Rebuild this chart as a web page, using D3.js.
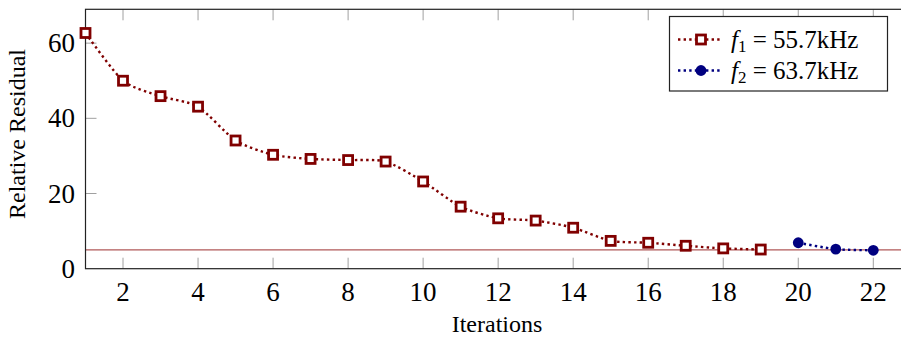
<!DOCTYPE html>
<html>
<head>
<meta charset="utf-8">
<script src="https://cdn.jsdelivr.net/npm/d3@7"></script>
<style>
  body { margin: 0; background: #fff; }
  text { font-family: "Liberation Serif", "DejaVu Serif", serif; }
</style>
</head>
<body>
<div id="chart"></div>
<script>
/* Relative residual per iteration, two frequencies */

const iter1 = [1, 2, 3, 4, 5, 6, 7, 8, 9, 10, 11, 12, 13, 14, 15, 16, 17, 18, 19];
const resid1 = [62.7, 50.0, 45.9, 43.1, 34.1, 30.3, 29.2, 28.9, 28.5, 23.2, 16.5, 13.4, 12.8, 10.9, 7.4, 6.9, 6.1, 5.4, 5.1];
const iter2 = [20, 21, 22];
const resid2 = [6.9, 5.2, 4.9];
const threshold = 5;
const xTicks = [2, 4, 6, 8, 10, 12, 14, 16, 18, 20, 22];
const yTicks = [0, 20, 40, 60];
const labels = ["55.7kHz", "63.7kHz"];

const width = 901, height = 337,
    margin = ({ top: 9, right: 0, bottom: 69, left: 85 });

const red = "#800000", blue = "#000080";
const serif = "Liberation Serif";

const svg = d3.select("#chart")
    .append("svg")
    .attr("width", width)
    .attr("height", height)
    .attr("font-family", serif)
    .attr("viewBox", [0, 0, width, height]);

let x = d3.scaleLinear()
    .domain([1, 22.8])
    .range([margin.left + 0.5, 873.3 + 0.8 * 37.5]);

let y = d3.scaleLinear()
    .domain([0, 69])
    .range([height - margin.bottom + 0.7, margin.top + 0.3]);

const x0 = x(1), x1 = x(22.8), yb = y(0), yt = y(69);

/* inner ticks (pgfplots style), mirrored on top */
const tickLen = 11;
svg.append("g").selectAll("line")
  .data(xTicks).join("line")
    .attr("x1", d => x(d)).attr("x2", d => x(d))
    .attr("y1", yb).attr("y2", yb - tickLen)
    .attr("stroke", "#a0a0a0").attr("stroke-width", 1);
svg.append("g").selectAll("line")
  .data(xTicks).join("line")
    .attr("x1", d => x(d)).attr("x2", d => x(d))
    .attr("y1", yt).attr("y2", yt + tickLen)
    .attr("stroke", "#a0a0a0").attr("stroke-width", 1);
svg.append("g").selectAll("line")
  .data(yTicks.filter(d => d > 0)).join("line")
    .attr("x1", x0).attr("x2", x0 + tickLen)
    .attr("y1", d => y(d)).attr("y2", d => y(d))
    .attr("stroke", "#a0a0a0").attr("stroke-width", 1);

/* threshold line */
svg.append("line")
    .attr("x1", x0).attr("x2", x1)
    .attr("y1", y(threshold)).attr("y2", y(threshold))
    .attr("stroke", "#b05858")
    .attr("stroke-width", 1.3);

/* axis box */
svg.append("rect")
    .attr("x", x0).attr("y", yt)
    .attr("width", x1 - x0).attr("height", yb - yt)
    .attr("fill", "none")
    .attr("stroke", "#222")
    .attr("stroke-width", 1.2);

/* tick labels */
svg.append("g").selectAll("text")
  .data(xTicks).join("text")
    .attr("x", d => x(d))
    .attr("y", 301)
    .attr("text-anchor", "middle")
    .attr("font-family", serif)
    .attr("font-size", 27)
    .text(d => d);

svg.append("g").selectAll("text")
  .data(yTicks).join("text")
    .attr("x", 75)
    .attr("y", d => y(d) + 9)
    .attr("text-anchor", "end")
    .attr("font-family", serif)
    .attr("font-size", 27)
    .text(d => d);

/* axis labels */
svg.append("text")
    .attr("x", 497)
    .attr("y", 332)
    .attr("text-anchor", "middle")
    .attr("font-family", serif)
    .attr("font-size", 24)
    .text("Iterations");

svg.append("text")
    .attr("transform", "translate(25,134) rotate(-90)")
    .attr("text-anchor", "middle")
    .attr("font-family", serif)
    .attr("font-size", 24)
    .text("Relative Residual");

/* series */
const s1 = iter1.map((d, i) => ({ it: d, r: resid1[i] }));
const s2 = iter2.map((d, i) => ({ it: d, r: resid2[i] }));

let line = d3.line()
    .x(d => x(d.it))
    .y(d => y(d.r))
    .curve(d3.curveCardinal.tension(0.3));

const dotted = g => g
    .attr("fill", "none")
    .attr("stroke-width", 2.4)
    .attr("stroke-dasharray", "2.4,3.2");

svg.append("path").datum(s1).attr("d", line).attr("stroke", red).call(dotted);
svg.append("path").datum(s2).attr("d", line).attr("stroke", blue).call(dotted);

svg.append("g").selectAll("rect")
  .data(s1).join("rect")
    .attr("x", d => x(d.it) - 4.5)
    .attr("y", d => y(d.r) - 4.5)
    .attr("width", 9).attr("height", 9)
    .attr("fill", "#fff")
    .attr("stroke", red)
    .attr("stroke-width", 2.8);

svg.append("g").selectAll("circle")
  .data(s2).join("circle")
    .attr("cx", d => x(d.it))
    .attr("cy", d => y(d.r))
    .attr("r", 5.4)
    .attr("fill", blue);

/* legend */
const lg = svg.append("g");
lg.append("rect")
    .attr("x", 669.5).attr("y", 16.5)
    .attr("width", 218).attr("height", 74.5)
    .attr("fill", "#fff")
    .attr("stroke", "#222")
    .attr("stroke-width", 1.2);

const rows = [{ y: 39.5, c: red, sub: "1", lab: labels[0] }, { y: 70.5, c: blue, sub: "2", lab: labels[1] }];
rows.forEach((r, i) => {
  lg.append("line")
      .attr("x1", 678).attr("x2", 722)
      .attr("y1", r.y).attr("y2", r.y)
      .attr("stroke", r.c).call(dotted);
  if (i === 0) {
    lg.append("rect")
        .attr("x", 701 - 4.5).attr("y", r.y - 4.5)
        .attr("width", 9).attr("height", 9)
        .attr("fill", "#fff").attr("stroke", r.c).attr("stroke-width", 2.8);
  } else {
    lg.append("circle")
        .attr("cx", 701).attr("cy", r.y).attr("r", 5.4).attr("fill", r.c);
  }
  const t = lg.append("text")
      .attr("x", 731).attr("y", r.y + 8)
      .attr("font-family", serif)
      .attr("font-size", 25);
  t.append("tspan").attr("font-style", "italic").text("f");
  t.append("tspan").attr("font-size", 17).attr("dy", 4).text(r.sub);
  t.append("tspan").attr("dy", -4).text(" = " + r.lab);
});
</script>
</body>
</html>
